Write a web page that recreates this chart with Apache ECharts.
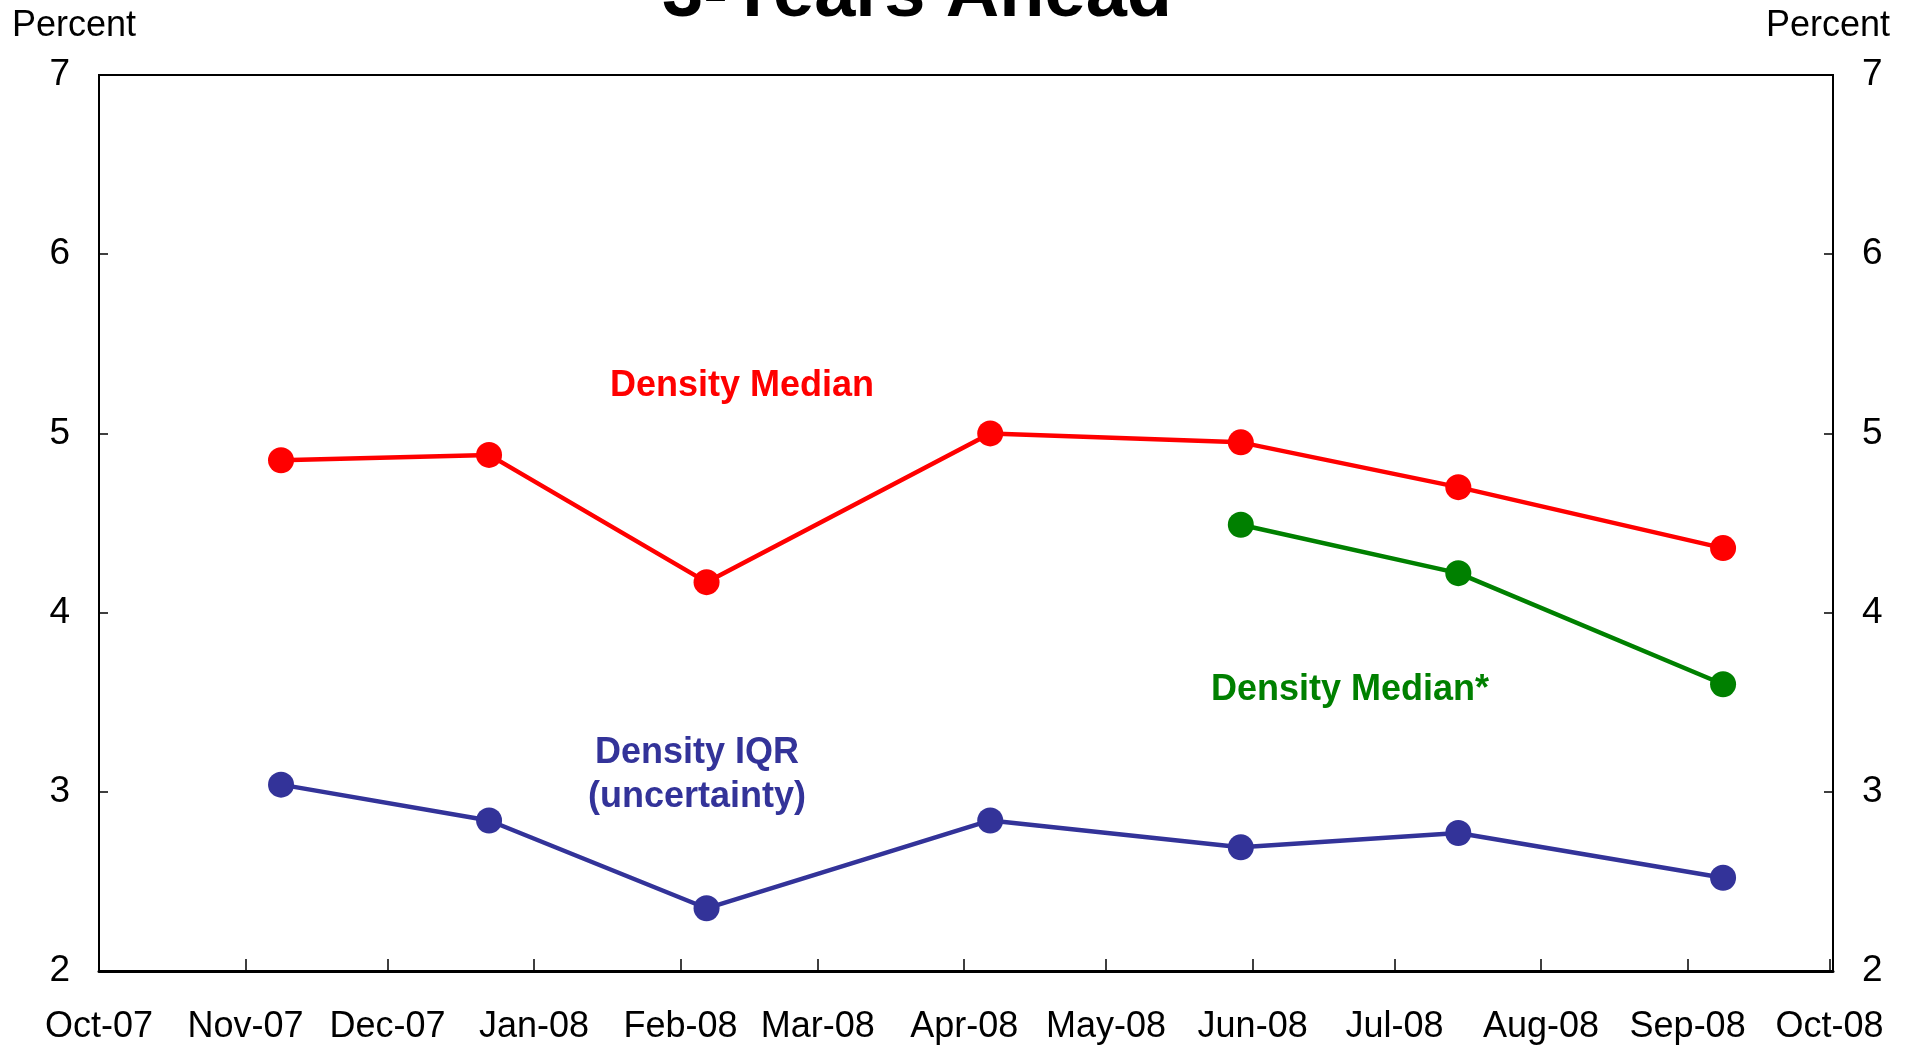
<!DOCTYPE html>
<html>
<head>
<meta charset="utf-8">
<script src="https://cdn.jsdelivr.net/npm/echarts@6/dist/echarts.min.js"></script>
<style>
  html, body { margin: 0; padding: 0; background: #fff; }
  #chart { width: 1916px; height: 1046px; }
</style>
</head>
<body>
<div id="chart"></div>
<script>
// survey dates
var surveyDates = ['2007-11-08', '2007-12-22', '2008-02-06', '2008-04-06', '2008-05-29', '2008-07-14', '2008-09-08']
var densityMedian = [4.85, 4.88, 4.17, 5.00, 4.95, 4.70, 4.36]
var densityIQR = [3.04, 2.84, 2.35, 2.84, 2.69, 2.77, 2.52]
// the starred median only starts in June-08
var medianStarDates = ['2008-05-29', '2008-07-14', '2008-09-08']
var medianStar = [4.49, 4.22, 3.60]
// month tick labels
var monthLabels = ['Oct-07', 'Nov-07', 'Dec-07', 'Jan-08', 'Feb-08', 'Mar-08', 'Apr-08',
  'May-08', 'Jun-08', 'Jul-08', 'Aug-08', 'Sep-08', 'Oct-08']
var yTicks = [2, 3, 4, 5, 6, 7]

var FONT = "'Liberation Sans', Arial, sans-serif"

function toTime(s) {
  var p = s.split('-')
  // surveys plotted at midday
  return Date.UTC(+p[0], +p[1] - 1, +p[2], 12)
}
// month starts from Oct 2007
var monthStarts = monthLabels.map(function (lab, i) {
  return Date.UTC(2007, 9 + i, 1)
})
function pairs(dates, vals) {
  return dates.map(function (d, i) { return [toTime(d), vals[i]] })
}

var chart = echarts.init(document.getElementById('chart'))

var yAxisBase = {
  type: 'value',
  min: yTicks[0],
  max: yTicks[yTicks.length - 1],
  interval: 1,
  splitLine: { show: false },
  axisLine: { show: true, lineStyle: { color: '#000', width: 2 } },
  axisTick: { show: true, inside: true, length: 9, lineStyle: { color: '#000', width: 1.5 } },
  axisLabel: { color: '#000', fontSize: 37, fontFamily: FONT, margin: 29 }
}

var option = {
  animation: false,
  backgroundColor: '#fff',
  grid: {
    left: 99,
    right: 83,
    top: 75,
    bottom: 75,
    show: true,
    borderColor: '#000',
    borderWidth: 2
  },
  xAxis: {
    type: 'value',
    min: monthStarts[0],
    max: monthStarts[monthStarts.length - 1] + 18 * 3600 * 1000,
    splitLine: { show: false },
    axisLine: { show: true, lineStyle: { color: '#000', width: 3 } },
    axisTick: {
      show: true,
      inside: true,
      length: 12,
      customValues: monthStarts,
      lineStyle: { color: '#000', width: 1.5 }
    },
    axisLabel: {
      color: '#000',
      fontSize: 36,
      fontFamily: FONT,
      margin: 38,
      customValues: monthStarts,
      hideOverlap: false,
      formatter: function (val) {
        var idx = monthStarts.indexOf(val)
        return idx >= 0 ? monthLabels[idx] : ''
      }
    }
  },
  yAxis: [
    Object.assign({}, yAxisBase, { position: 'left' }),
    Object.assign({}, yAxisBase, { position: 'right' })
  ],
  series: [
    {
      name: 'Density Median',
      type: 'line',
      data: pairs(surveyDates, densityMedian),
      symbol: 'circle',
      symbolSize: 26,
      lineStyle: { color: '#ff0000', width: 4.5 },
      itemStyle: { color: '#ff0000' }
    },
    {
      name: 'Density Median*',
      type: 'line',
      data: pairs(medianStarDates, medianStar),
      symbol: 'circle',
      symbolSize: 26,
      lineStyle: { color: '#008000', width: 4.5 },
      itemStyle: { color: '#008000' }
    },
    {
      name: 'Density IQR',
      type: 'line',
      data: pairs(surveyDates, densityIQR),
      symbol: 'circle',
      symbolSize: 26,
      lineStyle: { color: '#333399', width: 4.5 },
      itemStyle: { color: '#333399' }
    }
  ],
  graphic: [
    {
      type: 'text', x: 917, y: -4,
      style: { text: '3-Years Ahead', fill: '#000', font: 'bold 74px ' + FONT, align: 'center', verticalAlign: 'middle' }
    },
    {
      type: 'text', x: 12, y: 26,
      style: { text: 'Percent', fill: '#000', font: '36px ' + FONT, align: 'left', verticalAlign: 'middle' }
    },
    {
      type: 'text', x: 1890, y: 26,
      style: { text: 'Percent', fill: '#000', font: '36px ' + FONT, align: 'right', verticalAlign: 'middle' }
    },
    {
      type: 'text', x: 742, y: 386,
      style: { text: 'Density Median', fill: '#ff0000', font: 'bold 36px ' + FONT, align: 'center', verticalAlign: 'middle' }
    },
    {
      type: 'text', x: 697, y: 775,
      style: { text: 'Density IQR\n(uncertainty)', fill: '#333399', font: 'bold 36px ' + FONT, lineHeight: 44, align: 'center', verticalAlign: 'middle' }
    },
    {
      type: 'text', x: 1350, y: 690,
      style: { text: 'Density Median*', fill: '#008000', font: 'bold 36px ' + FONT, align: 'center', verticalAlign: 'middle' }
    }
  ]
}

chart.setOption(option)
</script>
</body>
</html>
